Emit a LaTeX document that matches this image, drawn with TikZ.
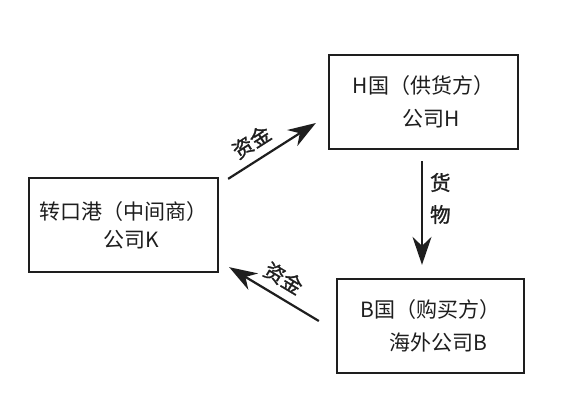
\documentclass[tikz,border=0pt]{standalone}
\usepackage{fontspec}
\setmainfont{Noto Sans CJK SC}
\newfontfamily\tdlabelfont{Noto Sans CJK SC}[FakeBold=1.2]
\usetikzlibrary{arrows.meta}
\usetikzlibrary{calc}
\definecolor{tdink}{HTML}{1E1E1E}
\tikzset{
  tdtip/.tip={Stealth[length=28pt, width=19pt, inset=9pt]},
  tdbox/.style={
    draw=tdink, line width=2.3pt, minimum width=189pt, minimum height=94pt,
    inner sep=0pt, align=center, text=tdink,
    font=\fontsize{21}{33}\selectfont},
  tdarrow/.style={-tdtip, draw=tdink, line width=2.2pt},
  tdback/.style={tdtip-, draw=tdink, line width=2.2pt},
  tdlabel/.style={font=\tdlabelfont\fontsize{20.5}{32}\selectfont,
    text=tdink, inner sep=2pt},
}

\begin{document}
\begin{tikzpicture}[x=1pt, y=-1pt]

% Canvas.
\useasboundingbox[fill=white] (0,0) rectangle (588,416);

% The three parties.
\node[tdbox, font=\fontsize{21}{28}\selectfont] (K) at (123.5,225)
  {转口港（中间商）\\\hspace*{16pt}公司K};
\node[tdbox] (H) at (423.5,102)
  {H国（供货方）\\\hspace*{16pt}公司H};
\node[tdbox, minimum width=187pt] (B) at (430.5,326)
  {B国（购买方）\\\hspace*{16pt}海外公司B};

% Money from K to H.
\coordinate (kh0) at ([shift={(9,2)}]K.north east);
\coordinate (kh1) at ([shift={(-12,21)}]H.west);
\draw[tdarrow] (kh0) --
  node[tdlabel, pos=0.38, sloped, above=6pt] {资金} (kh1);

% Goods from H to B.
\coordinate (hb0) at ([shift={(-1.5,11)}]H.south);
\coordinate (hb1) at ($(hb0 |- B.north)+(0,-13)$);
\draw[tdarrow] (hb0) --
  node[tdlabel, pos=0.36, right=5pt, align=center] {货\\物} (hb1);

% Money from B back to K.
\coordinate (bk0) at ([shift={(10,-6)}]K.south east);
\coordinate (bk1) at ([shift={(-17,-5)}]B.west);
\draw[tdback] (bk0) --
  node[tdlabel, midway, sloped, above=6pt] {资金} (bk1);

\end{tikzpicture}
\end{document}
